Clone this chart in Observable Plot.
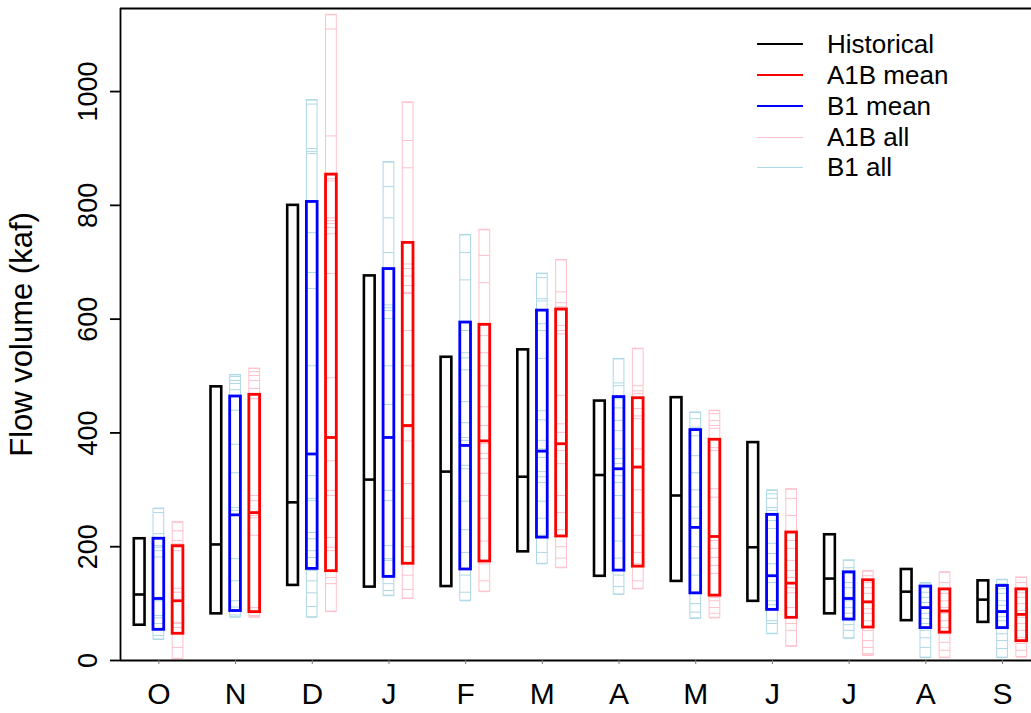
<!DOCTYPE html>
<html>
<head>
<meta charset="utf-8">
<script src="https://cdn.jsdelivr.net/npm/d3@7"></script>
<script src="https://cdn.jsdelivr.net/npm/@observablehq/plot@0.6"></script>
<style>
  html, body { margin: 0; padding: 0; background: white; overflow: hidden; }
  #wrap { position: relative; width: 1031px; height: 713px; overflow: hidden; font-family: "Liberation Sans", Arial, Helvetica, sans-serif; }
  .leg { position: absolute; left: 757px; height: 30px; display: flex; align-items: center; font-size: 26px; color: black; white-space: nowrap; }
  .sw { width: 46px; margin-right: 24px; }
</style>
</head>
<body>
<div id="wrap"></div>
<script>
const months = ["O","N","D","J","F","M","A","M","J","J","A","S"];
const yTicks = [0, 200, 400, 600, 800, 1000];

const histHigh = [214, 481, 800, 676, 533, 546, 456, 462, 383, 221, 160, 140];
const histMed  = [116, 204, 278, 318, 332, 323, 326, 290, 199, 144, 121, 107];
const histLow  = [62, 82, 132, 129, 130, 191, 148, 139, 104, 82, 70, 67];

const b1High = [214, 464, 806, 688, 594, 615, 463, 405, 256, 155, 130, 131];
const b1Med  = [109, 256, 363, 392, 378, 368, 337, 234, 149, 109, 93, 86];
const b1Low  = [54, 87, 161, 147, 160, 216, 158, 118, 89, 72, 57, 57];

const a1bHigh = [201, 467, 854, 734, 590, 617, 461, 388, 225, 141, 125, 125];
const a1bMed  = [105, 260, 392, 413, 386, 381, 340, 218, 136, 103, 87, 81];
const a1bLow  = [47, 85, 157, 170, 174, 218, 165, 114, 75, 58, 49, 34];

// Individual model levels (highs, medians, lows) seen as thin lines, per month
const b1AllLevels = [
  [267,260,223,216,202,199,193,182,111,105,79,75,65,53,44,37],
  [502,499,492,487,476,440,380,330,269,264,179,140,105,94,87,80,76],
  [985,978,900,895,891,752,682,654,518,325,285,281,225,214,193,181,158,140,119,95,76],
  [876,833,778,717,625,620,615,601,518,450,299,281,202,179,176,146,135,123,114],
  [748,717,669,580,541,532,511,455,418,392,387,343,337,280,230,190,150,120,105],
  [680,673,636,632,615,592,580,531,439,423,387,372,357,332,323,313,280,250,220,190,170],
  [530,488,483,460,444,422,404,372,355,346,336,325,313,290,250,210,180,150,130,116],
  [436,425,410,395,360,330,300,270,250,200,180,150,120,100,85,74],
  [299,293,285,269,264,255,246,232,206,188,170,137,105,98,88,70,65,47],
  [176,163,153,137,128,111,105,93,83,70,63,53,39],
  [136,128,120,111,102,93,83,74,65,53,40,23,5],
  [142,135,126,118,105,97,88,77,70,58,47,35,21,5]
];
const a1bAllLevels = [
  [243,228,211,205,199,193,127,120,105,67,65,58,47,23,3],
  [513,508,501,492,478,460,290,281,255,251,220,93,88,84,79,76],
  [1135,1110,922,847,843,778,773,768,761,750,680,497,351,299,290,216,199,193,146,135,86],
  [981,914,866,697,689,676,659,647,645,580,518,467,415,409,386,311,250,200,150,125,109],
  [757,712,664,571,541,518,483,446,413,381,364,355,329,290,250,210,170,140,121],
  [704,648,629,622,615,589,580,574,466,416,401,381,369,346,290,260,230,200,180,163],
  [548,483,474,469,462,443,430,425,372,339,300,260,220,190,170,140,126],
  [439,434,422,413,408,374,369,302,287,211,197,181,167,153,111,105,93,83,75],
  [301,285,255,223,211,197,176,158,146,128,119,93,76,65,53,25],
  [157,149,137,128,118,105,91,83,70,53,35,23,12,9],
  [155,137,118,105,93,83,70,58,47,32,18,5],
  [146,137,128,119,111,100,88,76,65,53,40,30,18,6]
];

const series = [
  {name: "Historical", color: "black", off: -0.25, high: histHigh, med: histMed, low: histLow, w: 2.6},
  {name: "B1 mean", color: "#0000FF", off: 0, high: b1High, med: b1Med, low: b1Low, w: 2.8},
  {name: "A1B mean", color: "#FF0000", off: 0.25, high: a1bHigh, med: a1bMed, low: a1bLow, w: 2.8}
];
const allSeries = [
  {name: "B1 all", color: "#ADD8E6", off: 0, levels: b1AllLevels},
  {name: "A1B all", color: "#FFC0CB", off: 0.25, levels: a1bAllLevels}
];
const hw = 0.07;

const boxRows = s => months.map((m, i) => ({i: i + 1, x1: i + 1 + s.off - hw, x2: i + 1 + s.off + hw, low: s.low[i], med: s.med[i], high: s.high[i]}));
const allBoxRows = s => s.levels.map((lv, i) => { const [lo, hi] = d3.extent(lv); return {x1: i + 1 + s.off - hw, x2: i + 1 + s.off + hw, low: lo, high: hi}; });
const allLineRows = s => s.levels.flatMap((lv, i) => lv.map(v => ({x1: i + 1 + s.off - hw, x2: i + 1 + s.off + hw, v})));

const marks = [];
for (const s of allSeries) {
  marks.push(Plot.ruleY(allLineRows(s), {y: "v", x1: "x1", x2: "x2", stroke: s.color, strokeWidth: 1}));
  marks.push(Plot.rect(allBoxRows(s), {x1: "x1", x2: "x2", y1: "low", y2: "high", fill: "none", stroke: s.color, strokeWidth: 1}));
}
for (const s of series) {
  const rows = boxRows(s);
  marks.push(Plot.rect(rows, {x1: "x1", x2: "x2", y1: "low", y2: "high", fill: "none", stroke: s.color, strokeWidth: s.w}));
  marks.push(Plot.ruleY(rows, {y: "med", x1: "x1", x2: "x2", stroke: s.color, strokeWidth: s.w}));
}
// frame
marks.push(Plot.ruleX([0.5], {stroke: "black", strokeWidth: 1.8}));
marks.push(Plot.ruleY([0], {stroke: "black", strokeWidth: 1.8}));
marks.push(Plot.ruleY([1146], {stroke: "black", strokeWidth: 1.8}));
// axes
marks.push(Plot.axisY({ticks: yTicks, tickFormat: d => String(d), tickSize: 10, tickPadding: 14, tickRotate: -90, fontSize: 27, label: null, strokeWidth: 1.8}));
marks.push(Plot.axisX({ticks: d3.range(1, 13), tickFormat: i => months[i - 1], tickSize: 4, tickPadding: 18, fontSize: 30, label: null, stroke: "#777", strokeWidth: 1}));
marks.push(Plot.text([0], {frameAnchor: "left", text: () => "Flow volume (kaf)", rotate: -90, dx: -98, textAnchor: "middle", fontSize: 31}));

const chart = Plot.plot({
  width: 1031,
  height: 713,
  marginLeft: 120,
  marginRight: 0,
  marginTop: 8,
  marginBottom: 53,
  x: {type: "linear", domain: [0.5, 12.5], range: [120, 1040.4]},
  y: {domain: [0, 1146], range: [660, 8]},
  style: {fontFamily: "'Liberation Sans', Arial, Helvetica, sans-serif", color: "black", background: "white", overflow: "hidden"},
  marks
});
const wrap = document.getElementById("wrap");
wrap.appendChild(chart);

const legendItems = [
  {label: "Historical", color: "black", w: 2.5},
  {label: "A1B mean", color: "#FF0000", w: 2.8},
  {label: "B1 mean", color: "#0000FF", w: 2.8},
  {label: "A1B all", color: "#FFC0CB", w: 1.5},
  {label: "B1 all", color: "#ADD8E6", w: 1.5}
];
const legendY = [44, 75, 106, 137, 167];
legendItems.forEach((d, k) => {
  const row = document.createElement("div");
  row.className = "leg";
  row.style.top = (legendY[k] - 15) + "px";
  const sw = document.createElement("div");
  sw.className = "sw";
  sw.style.borderTop = d.w + "px solid " + d.color;
  row.appendChild(sw);
  const t = document.createElement("span");
  t.textContent = d.label;
  row.appendChild(t);
  wrap.appendChild(row);
});
</script>
</body>
</html>
